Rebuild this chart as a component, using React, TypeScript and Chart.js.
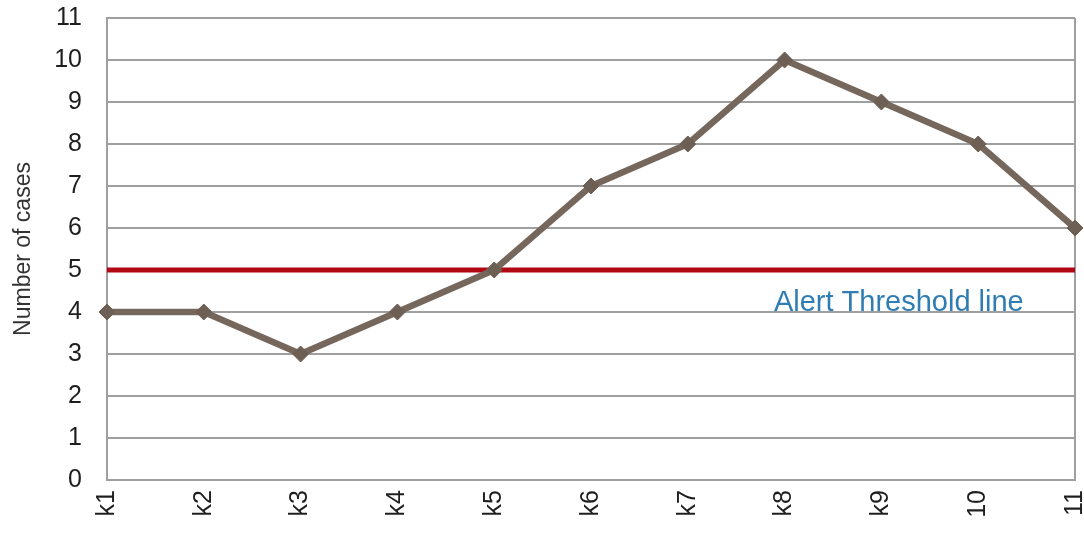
import React, { useEffect, useRef } from "react";
import { Chart, registerables } from "chart.js";

Chart.register(...registerables);

// Weekly case counts with an alert threshold
const weeks = ["k1", "k2", "k3", "k4", "k5", "k6", "k7", "k8", "k9", "10", "11"];
const cases = [4, 4, 3, 4, 5, 7, 8, 10, 9, 8, 6];
const threshold = 5;
const thresholdLine = weeks.map(() => threshold);
const yTicks = [0, 1, 2, 3, 4, 5, 6, 7, 8, 9, 10, 11];

const alertLabel = "Alert Threshold line";
const alertLabelAt = { x: 8.18, y: 4 };

const FONT = "'Liberation Sans', Arial, sans-serif";
const GRID = "#9f9f9f";

const alertTextPlugin = {
  id: "alertText",
  afterDatasetsDraw(chart: any) {
    const { ctx, scales } = chart;
    const x = scales.x.getPixelForValue(alertLabelAt.x);
    const y = scales.y.getPixelForValue(alertLabelAt.y);
    ctx.save();
    ctx.font = `29px ${FONT}`;
    ctx.fillStyle = "#2f7db3";
    ctx.textAlign = "center";
    ctx.textBaseline = "alphabetic";
    ctx.fillText(alertLabel, x, y - 1);
    ctx.restore();
  },
};

export default function App() {
  const ref = useRef<HTMLCanvasElement | null>(null);

  useEffect(() => {
    document.body.style.margin = "0";
    const canvas = ref.current;
    if (!canvas) return;
    const chart = new Chart(canvas, {
      type: "line",
      data: {
        labels: weeks,
        datasets: [
          {
            label: "Cases",
            data: cases,
            borderColor: "#76675d",
            backgroundColor: "#76675d",
            borderWidth: 6.5,
            tension: 0,
            pointStyle: "rectRot",
            pointRadius: 8,
            pointBorderWidth: 1,
            pointBackgroundColor: "#6e5f55",
            pointBorderColor: "#6e5f55",
            clip: false,
          },
          {
            label: "Alert threshold",
            data: thresholdLine,
            borderColor: "#b10814",
            borderWidth: 5,
            pointRadius: 0,
            tension: 0,
            clip: false,
          },
        ],
      },
      options: {
        responsive: false,
        animation: false,
        events: [],
        layout: { padding: { top: 18, right: 9, left: 0, bottom: 0 } },
        plugins: {
          legend: { display: false },
          tooltip: { enabled: false },
        },
        scales: {
          x: {
            type: "category",
            offset: false,
            afterFit: (s: any) => {
              s.height = 53;
              s.paddingLeft = 0;
              s.paddingRight = 0;
            },
            ticks: {
              autoSkip: false,
              minRotation: 90,
              maxRotation: 90,
              padding: 10,
              color: "#1e1e1e",
              font: { family: FONT, size: 25 },
            },
            grid: {
              drawTicks: false,
              lineWidth: 2,
              color: (c: any) =>
                c.index === weeks.length - 1 ? GRID : "rgba(0,0,0,0)",
            },
            border: { display: true, color: GRID, width: 2 },
          },
          y: {
            min: yTicks[0],
            max: yTicks[yTicks.length - 1],
            afterFit: (s: any) => {
              s.width = 107;
              s.paddingTop = 0;
              s.paddingBottom = 0;
            },
            afterBuildTicks: (s: any) => {
              s.ticks = yTicks.map((v) => ({ value: v }));
            },
            ticks: {
              padding: 25,
              color: "#1e1e1e",
              font: { family: FONT, size: 25 },
            },
            grid: { drawTicks: false, lineWidth: 2, color: GRID },
            border: { display: true, color: GRID, width: 2 },
            title: {
              display: true,
              text: "Number of cases",
              color: "#333333",
              font: { family: FONT, size: 23 },
              padding: { top: 10, bottom: 0 },
            },
          },
        },
      },
      plugins: [alertTextPlugin],
    });
    return () => chart.destroy();
  }, []);

  return (
    <div style={{ position: "absolute", left: 0, top: 0, width: 1084, height: 533, background: "#fff" }}>
      <canvas ref={ref} width={1084} height={533} />
    </div>
  );
}
